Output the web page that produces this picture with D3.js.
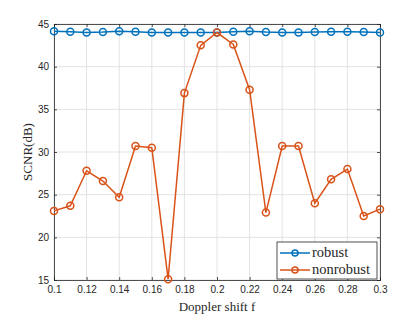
<!DOCTYPE html>
<html>
<head>
	<meta charset="utf-8">
	<title>SCNR vs Doppler shift</title>
	<script src="https://cdnjs.cloudflare.com/ajax/libs/d3/7.8.5/d3.min.js"></script>
	<style>
		body { margin: 0; background: #fff; }
		svg { display: block; }
		.tick text { font-family: "Liberation Sans", Arial, sans-serif; font-size: 10px; fill: #262626; }
		.lab { font-family: "Liberation Serif", "Times New Roman", serif; fill: #262626; }
	</style>
</head>
<body>
	<div id="chartDiv"></div>
	<script>
		const doppler = [0.1, 0.11, 0.12, 0.13, 0.14, 0.15, 0.16, 0.17, 0.18, 0.19, 0.2,
			0.21, 0.22, 0.23, 0.24, 0.25, 0.26, 0.27, 0.28, 0.29, 0.3];
		const robust = [44.15, 44.1, 44.0, 44.05, 44.15, 44.1, 44.0, 44.0, 44.0, 44.0, 44.0,
			44.1, 44.15, 44.05, 44.0, 44.0, 44.05, 44.1, 44.1, 44.05, 44.0];
		const nonrobust = [23.1, 23.7, 27.8, 26.6, 24.7, 30.7, 30.5, 15.1, 36.9, 42.5, 44.0,
			42.6, 37.3, 22.9, 30.7, 30.7, 24.0, 26.8, 28.0, 22.5, 23.3];
		const xTicks = [0.1, 0.12, 0.14, 0.16, 0.18, 0.2, 0.22, 0.24, 0.26, 0.28, 0.3];
		const yTicks = [15, 20, 25, 30, 35, 40, 45];
		const seriesNames = ['robust', 'nonrobust'];
		const colors = ['#0072BD', '#D95319'];

		const width = 420, height = 319;
		const margin = { left: 54, right: 40, top: 24, bottom: 39 };
		const w = width - margin.left - margin.right;
		const h = height - margin.top - margin.bottom;

		const svg = d3.select('#chartDiv').append('svg')
			.attr('width', width)
			.attr('height', height);
		const g = svg.append('g').attr('transform', `translate(${margin.left},${margin.top})`);

		const xScale = d3.scaleLinear().domain([0.1, 0.3]).range([0, w]);
		const yScale = d3.scaleLinear().domain([15, 45]).range([h, 0]);

		// grid
		g.append('g').selectAll('line').data(xTicks).join('line')
			.attr('x1', d => xScale(d)).attr('x2', d => xScale(d))
			.attr('y1', 0).attr('y2', h)
			.attr('stroke', '#e3e3e3');
		g.append('g').selectAll('line').data(yTicks).join('line')
			.attr('y1', d => yScale(d)).attr('y2', d => yScale(d))
			.attr('x1', 0).attr('x2', w)
			.attr('stroke', '#e3e3e3');

		// axes (box on, ticks inward)
		const fmtX = d => d3.format('')(+d.toFixed(2));
		const xAxis = d3.axisBottom(xScale).tickValues(xTicks).tickSize(-3).tickPadding(6).tickFormat(fmtX);
		const xTop = d3.axisTop(xScale).tickValues(xTicks).tickSize(-3).tickFormat('');
		const yAxis = d3.axisLeft(yScale).tickValues(yTicks).tickSize(-3).tickPadding(5);
		const yRight = d3.axisRight(yScale).tickValues(yTicks).tickSize(-3).tickFormat('');

		[
			g.append('g').attr('transform', `translate(0,${h})`).call(xAxis),
			g.append('g').call(xTop),
			g.append('g').call(yAxis),
			g.append('g').attr('transform', `translate(${w},0)`).call(yRight)
		].forEach(a => {
			a.selectAll('.domain').attr('stroke', '#262626').attr('stroke-width', 0.8);
			a.selectAll('.tick line').attr('stroke', '#262626').attr('stroke-width', 0.8);
		});

		// series
		const line = d3.line().x((d, i) => xScale(doppler[i])).y(d => yScale(d));
		[robust, nonrobust].forEach((vals, k) => {
			const s = g.append('g');
			s.append('path').datum(vals)
				.attr('d', line)
				.attr('fill', 'none')
				.attr('stroke', colors[k])
				.attr('stroke-width', 1.5);
			s.selectAll('circle').data(vals).join('circle')
				.attr('cx', (d, i) => xScale(doppler[i]))
				.attr('cy', d => yScale(d))
				.attr('r', 3.5)
				.attr('fill', 'none')
				.attr('stroke', colors[k])
				.attr('stroke-width', 1.5);
		});

		// axis labels
		svg.append('text').attr('class', 'lab')
			.attr('x', margin.left + w / 2).attr('y', 311)
			.attr('text-anchor', 'middle').attr('font-size', 13)
			.text('Doppler shift f');
		svg.append('text').attr('class', 'lab')
			.attr('transform', `translate(32,${margin.top + h / 2}) rotate(-90)`)
			.attr('text-anchor', 'middle').attr('font-size', 13)
			.text('SCNR(dB)');

		// legend
		const lg = g.append('g').attr('transform', `translate(${w - 103},${h - 38})`);
		lg.append('rect').attr('width', 100).attr('height', 37)
			.attr('fill', '#fff').attr('stroke', '#262626').attr('stroke-width', 0.8);
		seriesNames.forEach((name, k) => {
			const yy = 11 + k * 17;
			lg.append('line').attr('x1', 3).attr('x2', 33).attr('y1', yy).attr('y2', yy)
				.attr('stroke', colors[k]).attr('stroke-width', 1.5);
			lg.append('circle').attr('cx', 18).attr('cy', yy).attr('r', 3)
				.attr('fill', 'none').attr('stroke', colors[k]).attr('stroke-width', 1.5);
			lg.append('text').attr('class', 'lab')
				.attr('x', 35).attr('y', yy + 4).attr('font-size', 14.5)
				.text(name);
		});
	</script>
</body>
</html>
